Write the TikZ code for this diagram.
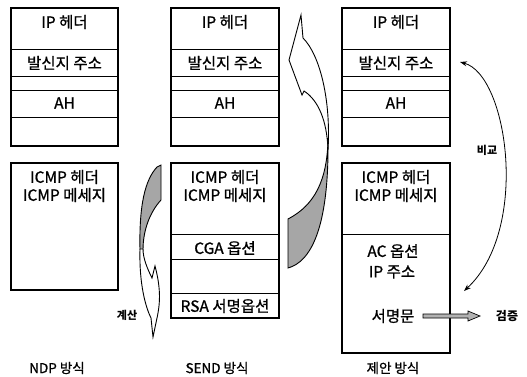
\documentclass[tikz,border=0pt]{standalone}
\usepackage{fontspec}
\setmainfont{Noto Sans CJK KR}
\newfontfamily\medf[FakeBold=0.9]{Noto Sans CJK KR}
\usetikzlibrary{arrows.meta}
\begin{document}
\begin{tikzpicture}[x=1pt,y=-1pt,
  boxline/.style={line width=1.2pt},
  sepline/.style={line width=0.8pt},
  lbl/.style={font=\medf\fontsize{15.5}{17}\selectfont, inner sep=0pt},
  captxt/.style={font=\medf\fontsize{13.5}{15}\selectfont, inner sep=0pt},
  small/.style={font=\fontsize{11}{12}\selectfont\bfseries, inner sep=0pt},
  shadefill/.style={fill=black!35, draw=black, line width=0.9pt},
  leaf/.style={fill=white, draw=black, line width=0.9pt}]
\useasboundingbox (0,0) rectangle (527,376);

% upper boxes
\foreach \xa/\xb in {11/118, 171/279, 342/450} {
  \draw[boxline] (\xa,8) rectangle (\xb,146);
  \foreach \yy in {49,76,90,117} \draw[sepline] (\xa,\yy) -- (\xb,\yy);
}
% lower boxes
\draw[boxline] (11,163) rectangle (118,290);
\draw[boxline] (171,163) rectangle (279,318);
\foreach \yy in {234,259,293} \draw[sepline] (171,\yy) -- (279,\yy);
\draw[boxline] (342,163) rectangle (450,353);
\draw[sepline] (342,234) -- (450,234);

% texts upper
\node[lbl] (ip1) at (64.5,22) {IP 헤더};
\node[lbl] (src1) at (64.5,63) {발신지 주소};
\node[lbl] (ah1) at (64.5,103) {AH};
\node[lbl] (ip2) at (225,22) {IP 헤더};
\node[lbl] (src2) at (225,63) {발신지 주소};
\node[lbl] (ah2) at (225,103) {AH};
\node[lbl] (ip3) at (396,22) {IP 헤더};
\node[lbl] (src3) at (396,63) {발신지 주소};
\node[lbl] (ah3) at (396,103) {AH};

% texts lower
\node[lbl] (icmph1) at (64.5,177) {ICMP 헤더};
\node[lbl] (icmpm1) at (64.5,195) {ICMP 메세지};
\node[lbl] (icmph2) at (225,177) {ICMP 헤더};
\node[lbl] (icmpm2) at (225,195) {ICMP 메세지};
\node[lbl] (cga) at (225,248) {CGA 옵션};
\node[lbl] (rsa) at (225,306) {RSA 서명옵션};
\node[lbl] (icmph3) at (396,177) {ICMP 헤더};
\node[lbl] (icmpm3) at (396,195) {ICMP 메세지};
\node[lbl] (ac) at (393,251) {AC 옵션};
\node[lbl] (ipaddr) at (392,272) {IP 주소};
\node[lbl] (sig) at (393,316) {서명문};
\node[small,font=\fontsize{12}{14}\selectfont\bfseries] (verify) at (507,316) {검증};
\node[small] (cmp) at (487,150) {비교};
\node[small] (calc1) at (127,315) {계산};
\node[small] (calc2) at (308,79) {계산};

% bottom captions
\node[captxt] (ndp) at (57,368) {NDP 방식};
\node[captxt] (send) at (217,368) {SEND 방식};
\node[captxt] (prop) at (393,368) {제안 방식};

% left curved arrow (down)
\draw[shadefill] (157,167) -- (161,165) -- (161,200)
  .. controls (150,212) and (143,230) .. (143,250)
  -- (140,250) .. controls (139,205) and (145,180) .. (157,167) -- cycle;
\draw[leaf] (140,249) .. controls (139,285) and (146,308) .. (151,318)
  -- (153,337) -- (157,318) .. controls (161,300) and (160,285) .. (155,266)
  -- (152,278) .. controls (147,268) and (143,258) .. (143,249) -- cycle;

% right curved arrow (up)
\draw[leaf] (328,150) .. controls (331,100) and (320,55) .. (303,38)
  -- (301,15) -- (289,60) -- (302,95) -- (304,91)
  .. controls (318,100) and (327,120) .. (328,150) -- cycle;
\draw[shadefill] (328,140) .. controls (329,230) and (310,262) .. (288,268)
  -- (288,219) .. controls (315,205) and (327,180) .. (328,140) -- cycle;

% compare arrow
\coordinate (cmpA) at (460,62);
\coordinate (cmpB) at (464,291);
\draw[line width=0.8pt, {Stealth[length=7pt,width=5pt]}-{Stealth[length=7pt,width=5pt]}]
  (cmpA) .. controls (508,75) and (530,230) .. (cmpB);

% verify arrow
\coordinate (va) at (423,314);
\draw[fill=black!30, line width=0.7pt] (va)
  -- ++(45,0) -- ++(0,-3) -- ++(12,5) -- ++(-12,5) -- ++(0,-3) -- ++(-45,0) -- cycle;
\end{tikzpicture}
\end{document}
